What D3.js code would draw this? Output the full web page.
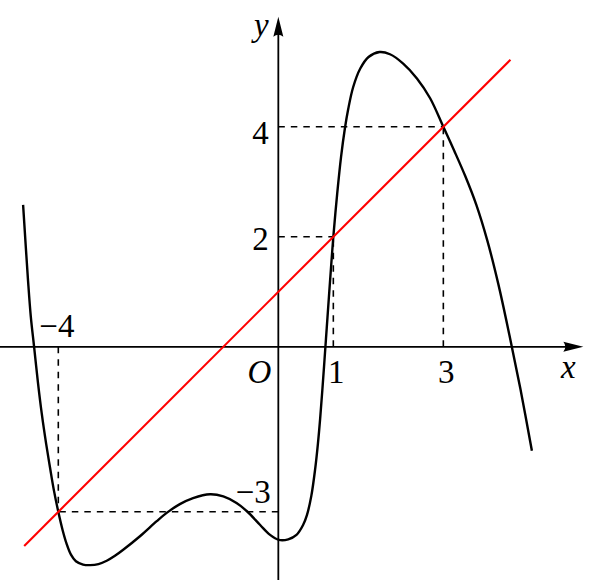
<!DOCTYPE html>
<html>
<head>
<meta charset="utf-8">
<script src="https://cdn.jsdelivr.net/npm/d3@7"></script>
<style>
  body { margin: 0; background: #fff; }
  text { font-family: "Liberation Serif", "DejaVu Serif", serif; fill: #000; }
</style>
</head>
<body>
<svg id="canvas" width="599" height="580"></svg>
<script>
// curve points
let curveX = [-4.64, -4.55, -4.50, -4.44, -4.37, -4.30, -4.22, -4.15, -4.08, -4.00,
  -3.92, -3.85, -3.77, -3.68, -3.55, -3.42, -3.27, -3.12, -2.97, -2.82,
  -2.51, -2.21, -2.03, -1.79, -1.55, -1.24, -1.00, -0.76, -0.57, -0.33,
  -0.15, 0.01, 0.18, 0.33, 0.45, 0.52, 0.60, 0.67, 0.72, 0.76,
  0.80, 0.84, 0.88, 0.92, 0.96, 1.00, 1.07, 1.14, 1.21, 1.27,
  1.36, 1.49, 1.64, 1.84, 2.03, 2.27, 2.52, 2.76, 3.00, 3.20,
  3.40, 3.60, 3.80, 4.00, 4.20, 4.40, 4.61];
let curveY = [2.58, 1.20, 0.55, 0.00, -0.65, -1.22, -1.77, -2.20, -2.61, -3.00,
  -3.34, -3.58, -3.78, -3.90, -3.96, -3.97, -3.95, -3.89, -3.80, -3.69,
  -3.44, -3.17, -3.02, -2.86, -2.75, -2.68, -2.72, -2.84, -2.99, -3.24,
  -3.42, -3.51, -3.50, -3.42, -3.24, -3.06, -2.71, -2.22, -1.76, -1.31,
  -0.79, -0.23, 0.34, 0.91, 1.47, 2.00, 2.78, 3.45, 3.97, 4.32,
  4.72, 5.06, 5.27, 5.36, 5.32, 5.15, 4.88, 4.52, 4.00, 3.56,
  3.10, 2.58, 1.93, 1.14, 0.22, -0.76, -1.89];

// red line y = x + 1
let lineX = [-4.62, 4.22];
let lineY = [-3.62, 5.22];

// dashed guides
let guideX = [-4, 1, 3];
let guideY = [-3, 2, 4];

let xTickLabels = ['1', '3'];
let yTickLabels = ['2', '4'];

let canvas = d3.select('#canvas');

let x = d3.scaleLinear().domain([-5.06, 5.83]).range([0, 599]);
let y = d3.scaleLinear().domain([-4.24, 6.306]).range([580, 0]);

let xEnd = 5.545; // arrow tip
let yEnd = 6.0;

// dashed lines
guideX.forEach((gx, i) => {
  let gy = guideY[i];
  canvas.append('line')
    .attr('x1', x(gx)).attr('y1', y(0))
    .attr('x2', x(gx)).attr('y2', y(gy))
    .attr('stroke', '#000').attr('stroke-width', 1.6)
    .attr('stroke-dasharray', '6.5,6');
  canvas.append('line')
    .attr('x1', x(0)).attr('y1', y(gy))
    .attr('x2', x(gx)).attr('y2', y(gy))
    .attr('stroke', '#000').attr('stroke-width', 1.6)
    .attr('stroke-dasharray', '6.5,6');
});

// axes
canvas.append('line')
  .attr('x1', x(-5.06)).attr('y1', y(0))
  .attr('x2', x(xEnd) - 10).attr('y2', y(0))
  .attr('stroke', '#000').attr('stroke-width', 1.8);
canvas.append('line')
  .attr('x1', x(0)).attr('y1', y(-4.24))
  .attr('x2', x(0)).attr('y2', y(yEnd) + 10)
  .attr('stroke', '#000').attr('stroke-width', 1.8);

// arrow heads (latex style)
let tx = x(xEnd), ty = y(0);
canvas.append('path')
  .attr('d', `M${tx},${ty} L${tx - 20},${ty - 5} Q${tx - 16},${ty} ${tx - 20},${ty + 5} Z`)
  .attr('fill', '#000');
let ux = x(0), uy = y(yEnd);
canvas.append('path')
  .attr('d', `M${ux},${uy} L${ux - 5},${uy + 20} Q${ux},${uy + 16} ${ux + 5},${uy + 20} Z`)
  .attr('fill', '#000');

// black curve
let curvePts = curveX.map((v, i) => [v, curveY[i]]);
canvas.append('path')
  .datum(curvePts)
  .attr('d', d3.line()
    .x((d) => x(d[0]))
    .y((d) => y(d[1]))
    .curve(d3.curveCatmullRom.alpha(0.5)))
  .attr('fill', 'none')
  .attr('stroke', '#000')
  .attr('stroke-width', 2.4)
  .attr('stroke-linejoin', 'round');

// red line
let linePts = lineX.map((v, i) => [v, lineY[i]]);
canvas.append('path')
  .datum(linePts)
  .attr('d', d3.line().x((d) => x(d[0])).y((d) => y(d[1])))
  .attr('fill', 'none')
  .attr('stroke', '#ff0000')
  .attr('stroke-width', 2.1);

// labels
let fs = 33;
canvas.selectAll('.xt')
  .data(xTickLabels)
  .enter()
  .append('text')
  .attr('x', (d) => x(+d) + 3)
  .attr('y', y(0) + 36.6)
  .attr('text-anchor', 'middle')
  .attr('font-size', fs)
  .text((d) => d);

canvas.selectAll('.yt')
  .data(yTickLabels)
  .enter()
  .append('text')
  .attr('x', x(0) - 9.5)
  .attr('y', (d) => (+d === 4 ? y(+d) + 17.5 : y(+d) + 13))
  .attr('text-anchor', 'end')
  .attr('font-size', fs)
  .text((d) => d);

canvas.append('text')
  .attr('x', x(-4) - 19)
  .attr('y', y(0) - 10)
  .attr('font-size', fs)
  .text('\u22124');

canvas.append('text')
  .attr('x', x(0) - 7.5)
  .attr('y', y(-3) - 8.5)
  .attr('text-anchor', 'end')
  .attr('font-size', fs)
  .text('\u22123');

canvas.append('text')
  .attr('x', x(0) - 7)
  .attr('y', y(0) + 36.6)
  .attr('text-anchor', 'end')
  .attr('font-size', fs)
  .attr('font-style', 'italic')
  .text('O');

canvas.append('text')
  .attr('x', 568.3)
  .attr('y', y(0) + 31.6)
  .attr('text-anchor', 'middle')
  .attr('font-size', fs)
  .attr('font-style', 'italic')
  .text('x');

canvas.append('text')
  .attr('x', x(0) - 17)
  .attr('y', 36)
  .attr('text-anchor', 'middle')
  .attr('font-size', fs)
  .attr('font-style', 'italic')
  .text('y');
</script>
</body>
</html>
